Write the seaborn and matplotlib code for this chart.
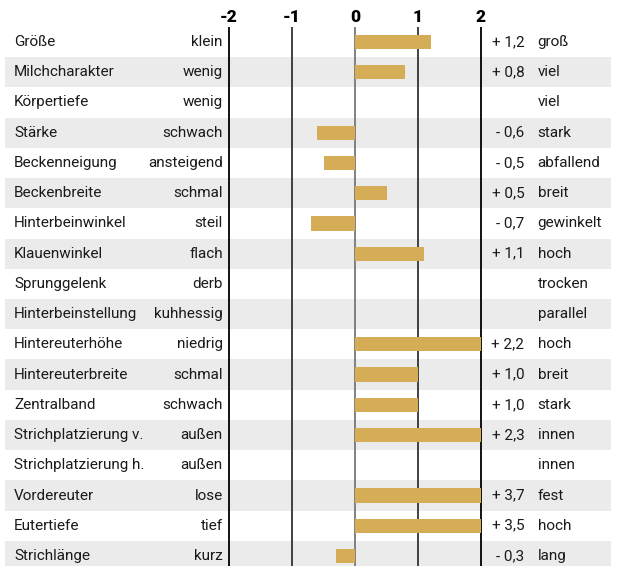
import numpy as np
import pandas as pd
import seaborn as sns
import matplotlib.pyplot as plt

traits = ["Größe", "Milchcharakter", "Körpertiefe", "Stärke", "Beckenneigung",
          "Beckenbreite", "Hinterbeinwinkel", "Klauenwinkel", "Sprunggelenk",
          "Hinterbeinstellung", "Hintereuterhöhe", "Hintereuterbreite", "Zentralband",
          "Strichplatzierung v.", "Strichplatzierung h.", "Vordereuter", "Eutertiefe",
          "Strichlänge"]
low_labels = ["klein", "wenig", "wenig", "schwach", "ansteigend", "schmal", "steil",
              "flach", "derb", "kuhhessig", "niedrig", "schmal", "schwach", "außen",
              "außen", "lose", "tief", "kurz"]
high_labels = ["groß", "viel", "viel", "stark", "abfallend", "breit", "gewinkelt",
               "hoch", "trocken", "parallel", "hoch", "breit", "stark", "innen",
               "innen", "fest", "hoch", "lang"]
values = [1.2, 0.8, np.nan, -0.6, -0.5, 0.5, -0.7, 1.1, np.nan, np.nan,
          2.2, 1.0, 1.0, 2.3, np.nan, 3.7, 3.5, -0.3]
ticks = [-2, -1, 0, 1, 2]

sns.set_style("white")
plt.rcParams['font.family'] = ['Roboto', 'DejaVu Sans']

df = pd.DataFrame({"trait": traits, "value": values})
df["drawn"] = df["value"].clip(-2, 2).fillna(0)

fig = plt.figure(figsize=(6.19, 5.66), dpi=100)
ax = fig.add_axes([0, 0, 1, 1])

n = len(traits)
ybot = 17.33
ytop = -1.389

# alternating row bands
for i in range(n):
    if i % 2 == 1:
        ax.fill_between([-5.56, 4.07], i - 0.5, i + 0.5, color="#ebebeb", lw=0, zorder=0)

# grid lines
line_colors = {-2: "#000000", -1: "#333333", 0: "#777777", 1: "#333333", 2: "#000000"}
for t in ticks:
    ax.vlines(t, -0.5, ybot, color=line_colors[t], lw=1.3, zorder=1)
    ax.text(t, -0.83, f"{t}", ha="center", va="center", fontsize=12.5,
            fontweight="black", color="black")

sns.barplot(data=df, x="drawn", y="trait", order=traits, orient="h",
            color="#d6ad57", saturation=1, width=0.47, linewidth=0,
            ax=ax, zorder=3)

fs = 11
for i in range(n):
    ax.text(-5.41, i, traits[i], ha="left", va="center", fontsize=fs, color="#1a1a1a")
    ax.text(-2.1, i, low_labels[i], ha="right", va="center", fontsize=fs, color="#1a1a1a")
    ax.text(2.9, i, high_labels[i], ha="left", va="center", fontsize=fs, color="#1a1a1a")
    v = values[i]
    if not np.isnan(v):
        sign = "+" if v >= 0 else "-"
        s = f"{sign} {abs(v):.1f}".replace(".", ",")
        ax.text(2.69, i, s, ha="right", va="center", fontsize=fs, color="#1a1a1a")

ax.set_xlim(-5.635, 4.19)
ax.set_ylim(ybot, ytop)
ax.axis("off")

fig.savefig("out.png", dpi=100)
